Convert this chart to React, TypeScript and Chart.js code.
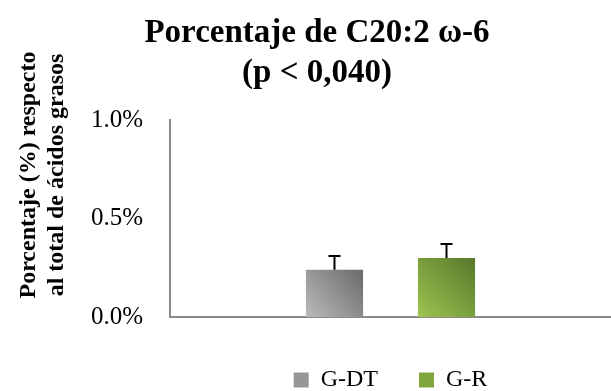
import React, { useEffect, useRef } from "react";
import { Chart, registerables } from "chart.js";

Chart.register(...registerables);

const categories = [""];
const seriesNames = ["G-DT", "G-R"];
const seriesValues = [0.24, 0.30];
const seriesErrors = [0.07, 0.07];
const yTicks = [0, 0.5, 1.0];
const titleLines = ["Porcentaje de C20:2 ω-6", "(p < 0,040)"];
const yTitleLines = ["Porcentaje (%) respecto", "al total de ácidos grasos"];

const solidColors = ["#969696", "#7fa53c"];
const gradStops = [
  ["#bababa", "#6a6a6a"],
  ["#9ec450", "#56782a"],
];

const FONT = "'Liberation Serif', 'Times New Roman', serif";

const gradientPlugin = {
  id: "barGradient",
  beforeDatasetsDraw(chart: any) {
    const ctx = chart.ctx;
    chart.data.datasets.forEach((ds: any, di: number) => {
      const meta = chart.getDatasetMeta(di);
      meta.data.forEach((el: any) => {
        const left = el.x - el.width / 2;
        const right = el.x + el.width / 2;
        const g = ctx.createLinearGradient(left, el.base, right, el.y);
        g.addColorStop(0, gradStops[di][0]);
        g.addColorStop(1, gradStops[di][1]);
        el.options = { ...el.options, backgroundColor: g };
      });
    });
  },
};

const errorBarPlugin = {
  id: "errorBars",
  afterDatasetsDraw(chart: any) {
    const ctx = chart.ctx;
    const yScale = chart.scales.y;
    chart.data.datasets.forEach((ds: any, di: number) => {
      const meta = chart.getDatasetMeta(di);
      meta.data.forEach((el: any, i: number) => {
        const v = ds.data[i];
        const e = ds.errors[i];
        const top = yScale.getPixelForValue(v + e);
        ctx.save();
        ctx.strokeStyle = "#000";
        ctx.lineWidth = 2;
        ctx.beginPath();
        ctx.moveTo(el.x, el.y);
        ctx.lineTo(el.x, top);
        ctx.moveTo(el.x - 6, top);
        ctx.lineTo(el.x + 6, top);
        ctx.stroke();
        ctx.restore();
      });
    });
  },
};

const textPlugin = {
  id: "customTexts",
  afterDraw(chart: any) {
    const ctx = chart.ctx;
    ctx.save();
    ctx.fillStyle = "#000";
    ctx.textAlign = "center";
    ctx.textBaseline = "alphabetic";
    ctx.font = `bold 33px ${FONT}`;
    ctx.fillText(titleLines[0], 317, 42);
    ctx.fillText(titleLines[1], 317, 82);
    ctx.font = `bold 24px ${FONT}`;
    const cy = 175;
    [35, 63].forEach((bx, i) => {
      ctx.save();
      ctx.translate(bx, cy);
      ctx.rotate(-Math.PI / 2);
      ctx.fillText(yTitleLines[i], 0, 0);
      ctx.restore();
    });
    ctx.restore();
  },
};

export default function App() {
  const ref = useRef<HTMLCanvasElement>(null);
  useEffect(() => {
    document.body.style.margin = "0";
    const canvas = ref.current!;
    const chart = new Chart(canvas, {
      type: "bar",
      data: {
        labels: categories,
        datasets: seriesNames.map((name, i) => ({
          label: name,
          data: [seriesValues[i]],
          errors: [seriesErrors[i]],
          backgroundColor: solidColors[i],
          borderWidth: 0,
          categoryPercentage: 0.508,
          barPercentage: 0.51,
        })) as any,
      },
      options: {
        animation: false,
        responsive: false,
        layout: { padding: { top: 120, left: 0, right: 0, bottom: -11 } },
        scales: {
          x: {
            grid: { display: false },
            ticks: { display: false },
            border: { display: true, color: "#8a8a8a", width: 2 },
            afterFit: (s: any) => {
              s.height = 10;
            },
          },
          y: {
            min: 0,
            max: 1,
            afterBuildTicks: (s: any) => {
              s.ticks = yTicks.map((v) => ({ value: v }));
            },
            ticks: {
              padding: 27,
              color: "#000",
              font: { family: FONT, size: 25 },
              callback: (v: any) => `${Number(v).toFixed(1)}%`,
            },
            grid: { display: false, drawTicks: false },
            border: { display: true, color: "#8a8a8a", width: 2 },
            afterFit: (s: any) => {
              s.width = 170;
            },
          },
        },
        plugins: {
          title: { display: false },
          tooltip: { enabled: false },
          legend: {
            display: true,
            position: "bottom",
            fullSize: false,
            labels: {
              color: "#000",
              font: { family: FONT, size: 24 },
              boxWidth: 15,
              boxHeight: 15,
              padding: 41,
            },
          },
        },
      },
      plugins: [gradientPlugin, errorBarPlugin, textPlugin],
    });
    return () => chart.destroy();
  }, []);
  return (
    <div style={{ width: 611, height: 391 }}>
      <canvas ref={ref} width={611} height={391} style={{ width: 611, height: 391 }} />
    </div>
  );
}
